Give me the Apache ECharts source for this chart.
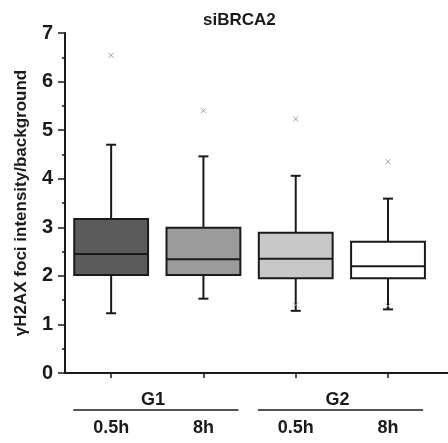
<!DOCTYPE html>
<html>
<head>
<meta charset="utf-8">
<script src="https://cdn.jsdelivr.net/npm/echarts@6/dist/echarts.min.js"></script>
<style>
  html, body { margin: 0; padding: 0; background: #fff; }
  #main { width: 448px; height: 443px; }
</style>
</head>
<body>
<div id="main"></div>
<script>
// categories along x and the group each pair belongs to
const categories = ['0.5h', '8h', '0.5h', '8h'];
const groupNames = ['G1', 'G2'];
const groupSpans = [[0, 1], [2, 3]];

// box statistics
const whiskerLow = [1.23, 1.53, 1.28, 1.31];
const q1 = [2.02, 2.02, 1.95, 1.95];
const median = [2.45, 2.34, 2.35, 2.20];
const q3 = [3.17, 2.99, 2.89, 2.70];
const whiskerHigh = [4.70, 4.46, 4.06, 3.59];
const outliersHigh = [6.54, 5.40, 5.23, 4.35];
const outliersLow = [null, null, 1.40, 1.38];

const boxColors = ['#5b5b5b', '#9b9b9b', '#c8c8c8', '#ffffff'];
const FONT = 'Arial, "Liberation Sans", sans-serif';
const INK = '#1a1a1a';

let boxData = categories.map((c, i) => [i, whiskerLow[i], q1[i], median[i], q3[i], whiskerHigh[i]]);
let outlierData = [];
categories.forEach((c, i) => {
  if (outliersHigh[i] != null) outlierData.push([i, outliersHigh[i]]);
  if (outliersLow[i] != null) outlierData.push([i, outliersLow[i]]);
});
let groupData = groupSpans.map(s => [s[0], s[1]]);

function seg(x1, y1, x2, y2) {
  return { type: 'line', shape: { x1: x1, y1: y1, x2: x2, y2: y2 },
           style: { stroke: INK, lineWidth: 2, fill: null } };
}

function renderBox(params, api) {
  let i = api.value(0);
  let x = api.coord([i, 0])[0];
  let w = api.size([0.8, 0])[0];
  let yLow = api.coord([i, api.value(1)])[1];
  let yQ1 = api.coord([i, api.value(2)])[1];
  let yMed = api.coord([i, api.value(3)])[1];
  let yQ3 = api.coord([i, api.value(4)])[1];
  let yHigh = api.coord([i, api.value(5)])[1];
  let cap = 5;
  return {
    type: 'group',
    children: [
      seg(x, yHigh, x, yQ3),
      seg(x, yQ1, x, yLow),
      seg(x - cap, yHigh, x + cap, yHigh),
      seg(x - cap, yLow, x + cap, yLow),
      { type: 'rect', shape: { x: x - w / 2, y: yQ3, width: w, height: yQ1 - yQ3 },
        style: { fill: boxColors[i], stroke: INK, lineWidth: 2 } },
      seg(x - w / 2, yMed, x + w / 2, yMed)
    ]
  };
}

function renderGroup(params, api) {
  let x1 = api.coord([api.value(0) - 0.41, 0])[0];
  let x2 = api.coord([api.value(1) + 0.38, 0])[0];
  let yBase = api.coord([0, 0])[1];
  return {
    type: 'group',
    children: [
      { type: 'line', shape: { x1: x1, y1: yBase + 37, x2: x2, y2: yBase + 37 },
        style: { stroke: INK, lineWidth: 1.5 } },
      { type: 'text', x: (x1 + x2) / 2 - 3, y: yBase + 36,
        style: { text: groupNames[params.dataIndex], fill: INK, font: 'bold 18px ' + FONT,
                 align: 'center', verticalAlign: 'bottom' } }
    ]
  };
}

let chart = echarts.init(document.getElementById('main'));
let option = {
  animation: false,
  backgroundColor: '#fff',
  title: {
    text: 'siBRCA2',
    left: 203,
    top: 12,
    padding: 0,
    textStyle: { fontFamily: FONT, fontWeight: 'bold', fontSize: 17, color: INK }
  },
  grid: { left: 65, right: 0, top: 33, bottom: 70, outerBoundsMode: 'none', containLabel: false },
  xAxis: {
    type: 'value',
    min: -0.5,
    max: 3.65,
    splitLine: { show: false },
    axisLine: { show: true, onZero: false, lineStyle: { color: INK, width: 2 } },
    axisTick: { show: true, customValues: [0, 1, 2, 3], length: 5, lineStyle: { color: INK, width: 1.5 } },
    axisLabel: {
      customValues: [0, 1, 2, 3],
      formatter: v => categories[Math.round(v)],
      margin: 46,
      fontFamily: FONT, fontWeight: 'bold', fontSize: 18, color: INK
    }
  },
  yAxis: {
    type: 'value',
    min: 0,
    max: 7,
    interval: 1,
    name: 'γH2AX foci intensity/background',
    nameLocation: 'middle',
    nameRotate: 90,
    nameGap: 35,
    nameMoveOverlap: false,
    nameTextStyle: { fontFamily: FONT, fontWeight: 'bold', fontSize: 17, color: INK },
    splitLine: { show: false },
    axisLine: { show: true, onZero: false, lineStyle: { color: INK, width: 2 } },
    axisTick: { show: true, inside: false, length: 7, lineStyle: { color: INK, width: 1.5 } },
    minorTick: { show: true, splitNumber: 2, length: 3, lineStyle: { color: INK, width: 1.5 } },
    axisLabel: { margin: 12, fontFamily: FONT, fontWeight: 'bold', fontSize: 20, color: INK }
  },
  series: [
    {
      name: 'boxes',
      type: 'custom',
      renderItem: renderBox,
      encode: { x: 0, y: [1, 2, 3, 4, 5] },
      data: boxData
    },
    {
      name: 'outliers',
      type: 'scatter',
      symbol: 'path://M0,0L10,10M10,0L0,10',
      symbolSize: 5,
      itemStyle: { color: 'none', borderColor: '#8a8a8a', borderWidth: 1 },
      data: outlierData
    },
    {
      name: 'groups',
      type: 'custom',
      clip: false,
      renderItem: renderGroup,
      encode: { x: [0, 1] },
      data: groupData
    }
  ]
};
chart.setOption(option);
</script>
</body>
</html>
